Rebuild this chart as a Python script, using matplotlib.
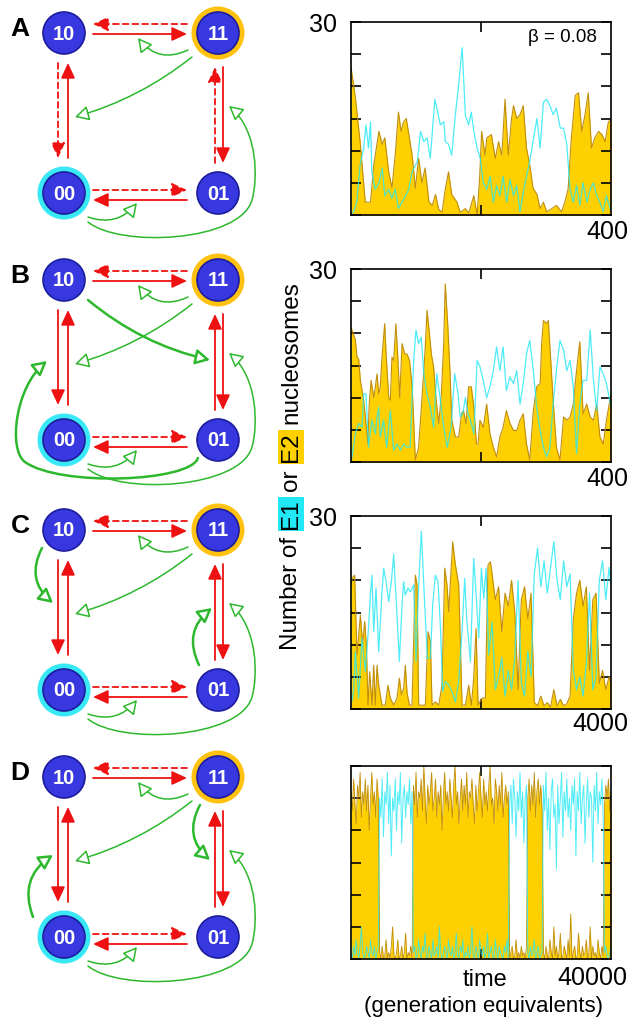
import numpy as np
import matplotlib.pyplot as plt
from matplotlib.patches import Circle, FancyArrowPatch
from matplotlib.path import Path

plt.rcParams['font.family'] = ['Liberation Sans', 'DejaVu Sans']

# ---------------- data ----------------
# panel A, beta = 0.08, time 0..400
a_gold_t = [0, 7, 14, 22, 30, 35, 43, 48, 52, 58, 63, 68, 73, 77, 81, 85, 89, 94, 99, 104,
            109, 114, 120, 125, 130, 135, 140, 145, 150, 155, 163, 168, 176, 181, 189, 194, 198, 201, 206, 209,
            216, 222, 227, 232, 237, 242, 247, 250, 255, 260, 265, 270, 275, 280, 286, 291, 296, 301, 309, 316,
            324, 329, 334, 339, 345, 350, 355, 360, 365, 370, 375, 381, 386, 391, 396, 400]
a_gold_v = [23, 18, 11.4, 2, 2, 7.8, 13, 11, 12, 6.7, 4.2, 9.3, 16, 13, 14.5, 15, 12.5, 9.3, 4.2, 8.8,
            5, 7.3, 2, 1.5, 3.2, 0.9, 0.4, 4, 6.7, 3.2, 2, 0.4, 1, 0.3, 3, 0, 6, 13, 9.3, 12,
            12.5, 8.8, 11.4, 9.3, 18, 9.3, 15, 17, 15, 15.6, 17, 10.4, 7.8, 4.2, 3.2, 1, 2, 0.5, 1, 1.5,
            0.5, 2, 4, 12, 18.6, 19, 13, 15.6, 19, 10.4, 12, 13, 12.5, 11.4, 14.5, 14.8]
a_cyan_t = [0, 4, 9, 14, 19.5, 23, 27, 30, 32, 37, 43, 48, 52, 58, 63, 68, 73, 78.5, 84, 89,
            94, 102, 107, 112, 117, 122, 129, 132, 137.5, 143, 145, 150, 155, 160.5, 166, 171, 176, 181, 185, 189,
            194, 199, 203.5, 209, 214, 219, 224, 229, 234, 239.5, 244.6, 250, 255, 260, 265, 270, 275, 280, 286, 291,
            296, 301, 306, 311, 316, 322, 327, 332, 337, 342, 347, 352, 357, 363, 368, 373, 378, 383, 388, 393, 400]
a_cyan_v = [0, 0.5, 2, 7.8, 10.4, 14, 10.4, 14.5, 6.7, 4, 5, 7.3, 3, 4, 2.6, 4, 1, 2, 3, 4,
            6.7, 8.3, 13, 11.4, 12, 8.8, 18, 16.6, 14, 14.5, 11.4, 11, 9.3, 15.5, 20.7, 26, 15.5, 14, 16, 13,
            10.4, 8.8, 5, 4, 6, 2, 4.6, 3, 6, 2, 5.5, 3, 4.6, 0.5, 3.5, 6, 8.3, 11.4, 15, 10.4,
            17.5, 18, 17, 15.6, 16.6, 13.5, 13.5, 11, 4, 2, 4.6, 1.5, 5, 2, 4, 5, 3, 2, 0.5, 3, 0.5]

# panel B, time 0..400
b_gold_t = [0, 1.5, 6.7, 9.2, 11.8, 14.4, 19.5, 22, 24.6, 26, 28, 31, 35, 37.5, 40, 42.6, 45, 47.7, 51.8, 54,
            58, 60.5, 63, 65.7, 69, 72, 75, 78.5, 82.6, 86, 90, 94, 96.4, 99, 104, 109, 114, 117, 120.6, 123.6,
            127, 131, 135, 139, 142.6, 145, 149, 152, 155, 160.6, 165.7, 170, 173, 177, 181, 185, 189, 193, 195.5, 198.4,
            203.5, 208.7, 213.8, 219, 224, 229, 234, 239, 244.6, 250, 255, 260, 265, 270, 275, 280.5, 285.6, 291, 293.3, 296,
            301, 303.6, 306, 311, 316, 321.5, 327, 332, 337, 342, 347, 352, 357, 362.6, 368, 373, 378, 383, 388, 393, 400]
b_gold_v = [21, 20.5, 19, 16.3, 16, 12.7, 9.6, 7, 4.4, 2.8, 9, 12.7, 10, 11.7, 13.7, 10.6, 11.7, 16.3, 21.5, 16.8,
            10, 9.6, 16.3, 15.8, 21.5, 16.3, 10, 18.4, 16.8, 16.8, 15.8, 11.7, 6.5, 0.3, 2.3, 9.6, 17.4, 23.6, 20, 16.8,
            14.8, 9.6, 6, 10.6, 18.4, 27.7, 21, 14.8, 6.5, 3.9, 3.9, 7.5, 8, 6, 11.7, 11.7, 8.5, 2.8, 2.8, 6.5,
            5.4, 9, 4.4, 2.3, 0.8, 3.9, 5.4, 8, 6, 4.9, 4.9, 6.5, 7.5, 2.8, 0.3, 8, 11.7, 12.2, 18.4, 22,
            21.5, 22, 17.9, 9.6, 2.3, 0.3, 7, 6.5, 7, 9, 14.2, 18.7, 7.5, 9, 7, 6.5, 9, 3.9, 2.8, 6.5, 10.6]
b_cyan_t = [0, 1.5, 6.7, 11.8, 17, 19.5, 23, 27, 32, 37.5, 40, 42.6, 45, 50, 55, 60.5, 65.7, 70.8, 76, 81,
            86, 91, 96.4, 100, 104, 108, 112, 117, 122, 127, 132, 137.5, 142.6, 148, 154, 159.5, 164.7, 168, 172, 176,
            180, 183.7, 189, 194, 198.4, 203.5, 208.7, 213.8, 219, 224, 229, 234, 239, 244.6, 250, 255, 260, 265, 270, 275,
            280.5, 285.6, 291, 296, 301, 306, 311, 316, 321.5, 327, 332, 337, 342, 347, 352, 357, 362.6, 368, 373, 378,
            383, 388, 393, 400]
b_cyan_v = [0, 0.8, 4.4, 6, 5.4, 10.6, 10.6, 2.3, 6.5, 4.4, 7, 8.5, 3.9, 6.5, 2.3, 8, 1.8, 2.8, 1.8, 2.8,
            2.3, 2.3, 15.8, 20.5, 18.4, 19.4, 13.7, 10.6, 8.5, 5.4, 13.7, 9.6, 5.4, 2.3, 5.4, 13.7, 10.6, 7, 7.5, 10,
            7.5, 6.5, 4.4, 15.8, 14.8, 12.7, 10, 11.7, 14.2, 17.9, 14.2, 17.9, 11.1, 13.2, 12.2, 14.2, 9, 12.2, 16.8, 18.9,
            14.2, 8.5, 4.9, 2.3, 0.8, 2.3, 9, 14.2, 18.9, 17.4, 14.2, 15.8, 11.7, 1.3, 9, 12.7, 12.7, 20.5, 12.7, 8,
            14.8, 13.7, 12.2, 8.5]

# panel C, time 0..4000
c_gold_t = [0, 15, 56, 92, 144, 180, 210, 236, 262, 287, 323, 349, 374, 400, 426, 477, 528, 569, 605, 657,
            708, 744, 775, 810, 836, 862, 898, 939, 990, 1016, 1041, 1093, 1144, 1185, 1221, 1247, 1298, 1349, 1400, 1442,
            1477, 1503, 1529, 1565, 1606, 1657, 1708, 1760, 1811, 1852, 1888, 1924, 1955, 2016, 2067, 2108, 2144, 2170, 2220, 2270,
            2320, 2370, 2420, 2470, 2520, 2570, 2620, 2670, 2720, 2770, 2820, 2870, 2920, 2970, 3020, 3070, 3120, 3170, 3220, 3270,
            3320, 3370, 3420, 3470, 3520, 3570, 3620, 3670, 3720, 3770, 3820, 3870, 3920, 3970, 4000]
c_gold_v = [19, 20.3, 20.8, 8.4, 14.6, 10, 13.6, 10, 0.6, 5.8, 0.6, 6.8, 0.6, 6.8, 3.7, 0.6, 0.6, 3.7, 1.7, 0.6,
            1.7, 4.8, 2.2, 3.2, 6.8, 2.6, 0.6, 0.6, 20.8, 19.3, 0.6, 0.6, 0.6, 12, 10.5, 0.6, 1.1, 0.6, 3.7, 21.9,
            19.3, 15.1, 19.8, 26, 22.4, 19.3, 0.6, 0.6, 3.7, 0.6, 4.8, 12.5, 0.6, 1.7, 1.7, 22.4, 22.9, 21, 17, 19,
            12, 18, 16, 20, 15, 3, 17, 19, 14, 18, 1, 0.5, 2, 0.5, 1, 0.3, 3, 0.5, 1.5, 0.5,
            0.8, 2, 14, 18, 20, 16, 19, 6, 17, 18, 4, 6, 3, 5, 4]
c_cyan_t = [0, 41, 67, 118, 169, 221, 272, 298, 323, 349, 385, 426, 477, 503, 539, 580, 621, 657, 708, 744,
            785, 810, 836, 877, 913, 964, 1000, 1041, 1082, 1134, 1175, 1221, 1257, 1298, 1339, 1375, 1411, 1452, 1503, 1554,
            1606, 1657, 1708, 1749, 1780, 1837, 1888, 1929, 1965, 2006, 2042, 2078, 2118, 2170, 2220, 2270, 2320, 2370, 2420, 2470,
            2520, 2570, 2620, 2670, 2720, 2770, 2820, 2870, 2920, 2970, 3020, 3070, 3120, 3170, 3220, 3270, 3320, 3370, 3420, 3470,
            3520, 3570, 3620, 3670, 3720, 3770, 3820, 3870, 3920, 3970, 4000]
c_cyan_v = [0.6, 2.7, 8.9, 1.7, 11, 5.8, 13, 17.7, 20.8, 12, 18.8, 8.9, 18.2, 21.9, 19.8, 16.7, 19.8, 24, 14.6, 7.4,
            16.2, 19.8, 17.7, 18.8, 18.2, 19.3, 7.4, 19.3, 27.6, 16.2, 7.9, 7.9, 16.2, 20.8, 19.8, 13, 2.7, 4.3, 3.7, 2.7,
            1.1, 4.3, 12, 20.3, 14, 7.4, 23.4, 17.2, 11, 21.9, 17.2, 21.9, 8.4, 13.5, 3, 5, 8, 2, 6, 3,
            8, 20, 4, 2, 9, 5, 21, 25, 19, 23, 18, 22, 26, 20, 17, 23, 19, 21, 6, 3,
            5, 2, 7, 18, 3, 5, 20, 23, 17, 22, 19]

# panel D, time 0..40000, one value every 200
d_t = list(range(0, 40001, 200))
d_gold_v = [26, 23, 28, 24, 21, 27, 25, 29, 22, 26, 24, 28, 23, 27, 20, 25, 29, 24, 26, 22, 28, 25,
            1, 0, 2, 0, 0.5, 3, 0, 1, 0, 2, 5, 0.5, 0, 1, 3, 0, 0.5, 2, 0, 1, 4, 0, 1, 0.5, 2, 0,
            27, 24, 29, 22, 26, 25, 28, 23, 30, 25, 21, 27, 24, 26, 29, 23, 25, 28, 22, 26,
            24, 27, 20, 25, 29, 24, 26, 23, 28, 25, 22, 27, 30, 24, 26, 21, 25, 28, 23, 27,
            24, 29, 22, 26, 25, 28, 24, 21, 27, 23, 26, 29, 25, 22, 28, 24, 26, 23, 27, 30,
            24, 25, 21, 28, 26, 23, 27, 24, 29, 22, 25, 27, 24, 26,
            0, 1, 2, 0, 0.5, 3, 0, 1, 0, 2, 0.5, 1, 0, 2,
            25, 28, 23, 27, 24, 29, 22, 26, 28, 24, 27, 23,
            1, 0, 2, 0.5, 0, 3, 1, 0, 5, 0.5, 2, 0, 1, 4, 0, 0.5, 2, 1, 0, 3,
            0.5, 7, 0, 1, 2, 0, 0.5, 4, 1, 0, 2, 0.5, 1, 3, 0, 1, 5, 0, 2, 0.5,
            1, 0, 3, 1, 0, 2, 0.5,
            24, 27, 25, 28, 23, 26]
d_cyan_v = [1, 0, 2, 0.5, 3, 1, 0, 2, 5, 1, 0, 0.5, 2, 1, 0, 3, 1, 0.5, 2, 0, 1, 2,
            25, 22, 28, 19, 26, 24, 29, 21, 27, 16, 25, 23, 28, 20, 26, 24, 29, 18, 25, 27, 22, 26, 24, 28, 21, 26,
            1, 2, 0, 0.5, 3, 1, 0, 2, 1, 4, 0.5, 0, 2, 1, 0, 3, 0.5, 1, 2, 0,
            5, 1, 0, 0.5, 2, 1, 0, 3, 1, 0.5, 2, 0, 1, 4, 0.5, 0, 2, 1, 3, 0,
            1, 0.5, 2, 0, 1, 5, 0.5, 0, 2, 1, 0, 3, 1, 0.5, 2, 0, 1, 4, 0, 1,
            2, 0.5, 0, 3, 1, 0, 2, 1, 0.5, 0, 2, 1, 3, 0,
            24, 27, 21, 28, 25, 19, 26, 23, 29, 22, 26, 18, 25, 27,
            1, 0, 2, 0.5, 1, 3, 0, 1, 2, 0, 0.5, 1,
            27, 23, 29, 20, 25, 17, 26, 28, 22, 24, 14, 27, 21, 25, 29, 19, 26, 23, 28, 22,
            25, 20, 27, 24, 28, 16, 26, 23, 29, 21, 25, 27, 18, 24, 28, 22, 26, 25, 15, 27,
            23, 29, 21, 26, 24, 28, 22,
            1, 2, 0.5, 0, 1, 2]

panel_letters = ['A', 'B', 'C', 'D']
node_labels = ['10', '11', '00', '01']

# ---------------- style ----------------
W, H = 638, 1027
GOLD = '#ffd000'
GOLD_EDGE = '#c08e0c'
CYAN = '#22e8f6'
RED = '#ee1111'
GREEN = '#2db82d'
BLUE = '#3838e0'
BLUE_EDGE = '#1c1c9c'
RING_GOLD = '#ffc20e'
RING_CYAN = '#38e8f4'

fig = plt.figure(figsize=(W / 100, H / 100), dpi=100)

# ---------------- left: state diagrams (pixel coordinates) ----------------
dax = fig.add_axes([0, 0, 300 / W, 1])
dax.set_xlim(0, 300)
dax.set_ylim(H, 0)
dax.axis('off')

panel_dy = [0, 247, 497, 744]
node_xy = {'10': (64, 33), '11': (218, 33), '00': (64, 193), '01': (218, 193)}


def red(p0, p1, dy, dashed=False):
    dax.annotate('', xy=(p1[0], p1[1] + dy), xytext=(p0[0], p0[1] + dy),
                 arrowprops=dict(arrowstyle='-|>,head_length=0.65,head_width=0.3',
                                 color=RED, lw=1.3,
                                 linestyle=(0, (3.2, 2.2)) if dashed else '-',
                                 shrinkA=0, shrinkB=0, mutation_scale=14))


def green(p0, p1, dy, rad, lw=1.1):
    dax.add_patch(FancyArrowPatch((p0[0], p0[1] + dy), (p1[0], p1[1] + dy),
                                  connectionstyle=f'arc3,rad={rad}',
                                  arrowstyle='-|>,head_length=0.65,head_width=0.35',
                                  mutation_scale=13, fc='white', ec=GREEN, lw=lw,
                                  shrinkA=0, shrinkB=0, zorder=2))


def green_path(pts, dy, lw=1.1):
    verts = [(x, y + dy) for x, y in pts]
    codes = [Path.MOVETO] + [Path.CURVE4] * (len(verts) - 1)
    dax.add_patch(FancyArrowPatch(path=Path(verts, codes),
                                  arrowstyle='-|>,head_length=0.65,head_width=0.35',
                                  mutation_scale=13, fc='white', ec=GREEN, lw=lw,
                                  shrinkA=0, shrinkB=0, zorder=2))


for i, dy in enumerate(panel_dy):
    dax.text(20, 29 + dy, panel_letters[i], fontsize=19, fontweight='bold',
             ha='center', va='center')
    for lab in node_labels:
        x, y = node_xy[lab]
        ring = RING_GOLD if lab == '11' else RING_CYAN if lab == '00' else None
        if ring:
            dax.add_patch(Circle((x, y + dy), 26.5, fc=ring, ec='none', zorder=3))
        dax.add_patch(Circle((x, y + dy), 21, fc=BLUE, ec=BLUE_EDGE, lw=1.2, zorder=4))
        dax.text(x, y + dy + 1, lab, color='white', fontsize=14.5, fontweight='bold',
                 ha='center', va='center', zorder=5)

    # red transitions
    red((187, 24), (93, 24), dy, dashed=True)
    red((93, 34), (187, 34), dy)
    red((93, 190), (187, 190), dy, dashed=True)
    red((187, 200), (93, 200), dy)
    red((58, 63), (58, 158), dy, dashed=(i == 0))
    red((68, 158), (68, 63), dy)
    red((215, 163), (215, 67), dy, dashed=(i == 0))
    red((223, 67), (223, 163), dy)

    # green catalytic arrows common to all panels
    green((188, 50), (138, 38), dy, -0.4)
    green((192, 57), (75, 117), dy, -0.1)
    green((88, 217), (137, 203), dy, 0.35)
    green_path([(88, 222), (120, 248), (240, 242), (252, 200),
                (258, 179), (258, 130), (229, 106)], dy)

    if i == 1:
        green((88, 53), (210, 113), dy, 0.12, lw=1.8)
        green_path([(198, 211), (190, 235), (60, 240), (25, 215),
                    (8, 203), (15, 140), (47, 114)], dy, lw=1.8)
    elif i == 2:
        green((42, 51), (53, 106), dy, 0.4, lw=1.8)
        green((199, 168), (212, 111), dy, -0.4, lw=1.8)
    elif i == 3:
        green((200, 61), (210, 116), dy, 0.4, lw=1.8)
        green((33, 173), (53, 111), dy, -0.4, lw=1.8)

# ---------------- right: time series ----------------
L, Wd = 351 / W, 260 / W


def series(top_px, tg, vg, tc, vc, xmax, lw=0.8):
    ax = fig.add_axes([L, 1 - (top_px + 193) / H, Wd, 193 / H])
    ax.fill_between(tg, 0, vg, color=GOLD, lw=0)
    ax.plot(tg, vg, color=GOLD_EDGE, lw=lw)
    ax.plot(tc, vc, color=CYAN, lw=lw + 0.1, alpha=0.8)
    ax.set_xlim(0, xmax)
    ax.set_ylim(0, 30)
    ax.set_yticks(range(0, 31, 5))
    ax.set_yticklabels([])
    ax.set_xticks([xmax / 2])
    ax.set_xticklabels([])
    ax.tick_params(direction='in', length=7, width=1.2, top=True, right=True)
    for s in ax.spines.values():
        s.set_linewidth(1.2)
    return ax


axA = series(22, a_gold_t, a_gold_v, a_cyan_t, a_cyan_v, 400)
axB = series(269, b_gold_t, b_gold_v, b_cyan_t, b_cyan_v, 400)
axC = series(516, c_gold_t, c_gold_v, c_cyan_t, c_cyan_v, 4000)
axD = series(766, d_t, d_gold_v, d_t, d_cyan_v, 40000, lw=0.6)

for ax in (axA, axB, axC):
    ax.text(-0.108, 0.985, '30', transform=ax.transAxes, fontsize=18,
            ha='center', va='center')
axA.text(0.985, -0.09, '400', transform=axA.transAxes, fontsize=18, ha='center', va='center')
axB.text(0.985, -0.09, '400', transform=axB.transAxes, fontsize=18, ha='center', va='center')
axC.text(0.96, -0.08, '4000', transform=axC.transAxes, fontsize=18, ha='center', va='center')
axD.text(0.93, -0.10, '40000', transform=axD.transAxes, fontsize=18, ha='center', va='center')
axD.text(0.515, -0.11, 'time', transform=axD.transAxes, fontsize=17, ha='center', va='center')
axD.text(0.508, -0.245, '(generation equivalents)', transform=axD.transAxes, fontsize=16,
         ha='center', va='center')
axA.text(0.946, 0.922, 'β = 0.08', transform=axA.transAxes, fontsize=13.5, ha='right', va='center')

# y label made of stacked pieces, two of them highlighted
ylab = [('Number of', None), ('E1', CYAN), ('or', None), ('E2', GOLD), ('nucleosomes', None)]
fig.canvas.draw()
rend = fig.canvas.get_renderer()
ypx = 650
for txt, bg in ylab:
    kw = {}
    pad = 0
    if bg:
        kw['bbox'] = dict(boxstyle='square,pad=0.08', fc=bg, ec='none')
        pad = 2
    t = fig.text(291 / W, 1 - (ypx - pad) / H, txt, rotation=90, fontsize=17.5,
                 ha='center', va='bottom', **kw)
    ypx -= t.get_window_extent(rend).height + 2 * pad + 6

fig.savefig('out.png', dpi=100)
